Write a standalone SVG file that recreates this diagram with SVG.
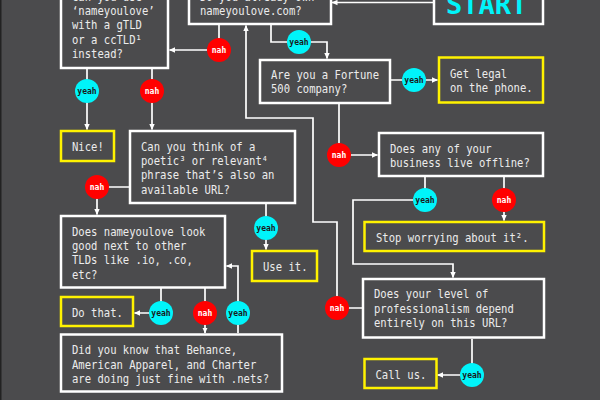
<svg xmlns="http://www.w3.org/2000/svg" width="600" height="400" viewBox="0 0 600 400">
<style>
.bg{fill:#4b4b4d}
.box{fill:#4b4b4d;stroke:#fff;stroke-width:2.5}
.end{fill:#4b4b4d;stroke:#fff200;stroke-width:2.5}
.t{font-family:"DejaVu Sans Mono","Liberation Mono",monospace;font-size:12px;fill:#ececec}
.c{fill:none;stroke:#fff;stroke-width:1.7}
.y{fill:#00f4fa}
.n{fill:#ff0000}
.yl{font-family:"DejaVu Sans Mono",monospace;font-size:8px;font-weight:bold;fill:#1a1a1a;text-anchor:middle}
.nl{font-family:"DejaVu Sans Mono",monospace;font-size:8px;font-weight:bold;fill:#fff;text-anchor:middle}
</style>
<defs>
<marker id="arr" viewBox="0 0 6 6" refX="5.5" refY="3" markerWidth="6" markerHeight="6" markerUnits="userSpaceOnUse" orient="auto">
<path d="M0,0.3 L6,3 L0,5.7 z" fill="#fff"/>
</marker>
</defs>
<rect class="bg" x="0" y="0" width="600" height="400"/>
<rect x="0" y="0" width="1.5" height="400" fill="#222"/>

<g id="connectors">
<path class="c" d="M433,2.5 H332" marker-end="url(#arr)"/>
<path class="c" d="M219,25 V50 H169.5" marker-end="url(#arr)"/>
<path class="c" d="M271,25 V42 H327 V58.5" marker-end="url(#arr)"/>
<path class="c" d="M87,69 V129.5" marker-end="url(#arr)"/>
<path class="c" d="M152,69 V129.5" marker-end="url(#arr)"/>
<path class="c" d="M391,80 H437.5" marker-end="url(#arr)"/>
<path class="c" d="M339,104 V155 H377.5" marker-end="url(#arr)"/>
<path class="c" d="M129,187 H97 V214.5" marker-end="url(#arr)"/>
<path class="c" d="M266,204 V249.5" marker-end="url(#arr)"/>
<path class="c" d="M425,177 V200 H353 V264 H453 V277.5" marker-end="url(#arr)"/>
<path class="c" d="M504,177 V220.5" marker-end="url(#arr)"/>
<path class="c" d="M362,308 H337 V222 H313 V118 H246 V25.5" marker-end="url(#arr)"/>
<path class="c" d="M472,339 V375 H437.5" marker-end="url(#arr)"/>
<path class="c" d="M161,288 V313 H134.5" marker-end="url(#arr)"/>
<path class="c" d="M205,288 V333" marker-end="url(#arr)"/>
<path class="c" d="M238,333 V266 H226.5" marker-end="url(#arr)"/>
<g id="lbl-b-nah"><circle class="n" cx="219" cy="50" r="12"/><text class="nl" x="219" y="53">nah</text></g>
<g id="lbl-b-yeah"><circle class="y" cx="299" cy="42" r="12"/><text class="yl" x="299" y="45">yeah</text></g>
<g id="lbl-a-yeah"><circle class="y" cx="87" cy="91" r="12"/><text class="yl" x="87" y="94">yeah</text></g>
<g id="lbl-a-nah"><circle class="n" cx="152" cy="91" r="12"/><text class="nl" x="152" y="94">nah</text></g>
<g id="lbl-f-yeah"><circle class="y" cx="414" cy="80" r="12"/><text class="yl" x="414" y="83">yeah</text></g>
<g id="lbl-f-nah"><circle class="n" cx="339" cy="155" r="12"/><text class="nl" x="339" y="158">nah</text></g>
<g id="lbl-can-nah"><circle class="n" cx="97" cy="187" r="12"/><text class="nl" x="97" y="190">nah</text></g>
<g id="lbl-can-yeah"><circle class="y" cx="266" cy="228" r="12"/><text class="yl" x="266" y="231">yeah</text></g>
<g id="lbl-off-yeah"><circle class="y" cx="425" cy="200" r="12"/><text class="yl" x="425" y="203">yeah</text></g>
<g id="lbl-off-nah"><circle class="n" cx="504" cy="200" r="12"/><text class="nl" x="504" y="203">nah</text></g>
<g id="lbl-pro-nah"><circle class="n" cx="337" cy="308" r="12"/><text class="nl" x="337" y="311">nah</text></g>
<g id="lbl-pro-yeah"><circle class="y" cx="472" cy="375" r="12"/><text class="yl" x="472" y="378">yeah</text></g>
<g id="lbl-tld-yeah"><circle class="y" cx="161" cy="313" r="12"/><text class="yl" x="161" y="316">yeah</text></g>
<g id="lbl-tld-nah"><circle class="n" cx="205" cy="313" r="12"/><text class="nl" x="205" y="316">nah</text></g>
<g id="lbl-did-yeah"><circle class="y" cx="238" cy="313" r="12"/><text class="yl" x="238" y="316">yeah</text></g>
</g>

<g id="start">
<rect class="box" x="434" y="-20" width="109" height="44"/>
<text x="446" y="13.5" font-family="'DejaVu Sans Mono',monospace" font-size="27" font-weight="bold" fill="#00f4fa">START</text>
</g>
<g id="own">
<rect class="box" x="189" y="-20" width="142" height="44"/>
<text class="t" transform="translate(200,0.5) scale(0.88,1)"><tspan x="0" y="0">Do you already own</tspan><tspan x="0" y="14.5">nameyoulove.com?</tspan></text>
</g>
<g id="gtld">
<rect class="box" x="61" y="-20" width="107" height="88"/>
<text class="t" transform="translate(72,0.5) scale(0.88,1)"><tspan x="0" y="0">Can you use</tspan><tspan x="0" y="14.5">‘nameyoulove’</tspan><tspan x="0" y="29">with a gTLD</tspan><tspan x="0" y="43.5">or a ccTLD¹</tspan><tspan x="0" y="58">instead?</tspan></text>
</g>
<g id="fortune">
<rect class="box" x="260" y="60" width="130" height="43"/>
<text class="t" transform="translate(271,79) scale(0.88,1)"><tspan x="0" y="0">Are you a Fortune</tspan><tspan x="0" y="14.5">500 company?</tspan></text>
</g>
<g id="legal">
<rect class="end" x="439" y="57.5" width="104" height="45"/>
<text class="t" transform="translate(450,77.5) scale(0.88,1)"><tspan x="0" y="0">Get legal</tspan><tspan x="0" y="14.5">on the phone.</tspan></text>
</g>
<g id="nice">
<rect class="end" x="61" y="131" width="53" height="30"/>
<text class="t" transform="translate(72,150.5) scale(0.88,1)">Nice!</text>
</g>
<g id="phrase">
<rect class="box" x="130" y="131" width="165" height="72"/>
<text class="t" transform="translate(141,150.5) scale(0.88,1)"><tspan x="0" y="0">Can you think of a</tspan><tspan x="0" y="14.5">poetic³ or relevant⁴</tspan><tspan x="0" y="29">phrase that’s also an</tspan><tspan x="0" y="43.5">available URL?</tspan></text>
</g>
<g id="tlds">
<rect class="box" x="61" y="216" width="164" height="71.5"/>
<text class="t" transform="translate(72,235.5) scale(0.88,1)"><tspan x="0" y="0">Does nameyoulove look</tspan><tspan x="0" y="14.5">good next to other</tspan><tspan x="0" y="29">TLDs like .io, .co,</tspan><tspan x="0" y="43.5">etc?</tspan></text>
</g>
<g id="useit">
<rect class="end" x="252" y="251" width="65" height="30"/>
<text class="t" transform="translate(263,270.5) scale(0.88,1)">Use it.</text>
</g>
<g id="dothat">
<rect class="end" x="61" y="297" width="72" height="29"/>
<text class="t" transform="translate(72,316.5) scale(0.88,1)">Do that.</text>
</g>
<g id="nets">
<rect class="box" x="61" y="334.5" width="221" height="57"/>
<text class="t" transform="translate(72,354.3) scale(0.88,1)"><tspan x="0" y="0">Did you know that Behance,</tspan><tspan x="0" y="14.5">American Apparel, and Charter</tspan><tspan x="0" y="29">are doing just fine with .nets?</tspan></text>
</g>
<g id="offline">
<rect class="box" x="379" y="133" width="164" height="43"/>
<text class="t" transform="translate(390,152.7) scale(0.88,1)"><tspan x="0" y="0">Does any of your</tspan><tspan x="0" y="14.5">business live offline?</tspan></text>
</g>
<g id="stop">
<rect class="end" x="364.5" y="222" width="179.5" height="29"/>
<text class="t" transform="translate(376,242) scale(0.88,1)">Stop worrying about it².</text>
</g>
<g id="pro">
<rect class="box" x="363" y="279" width="181" height="58.5"/>
<text class="t" transform="translate(374,298.3) scale(0.88,1)"><tspan x="0" y="0">Does your level of</tspan><tspan x="0" y="14.5">professionalism depend</tspan><tspan x="0" y="29">entirely on this URL?</tspan></text>
</g>
<g id="callus">
<rect class="end" x="364.5" y="359" width="72" height="29"/>
<text class="t" transform="translate(375.5,379) scale(0.88,1)">Call us.</text>
</g>
</svg>
